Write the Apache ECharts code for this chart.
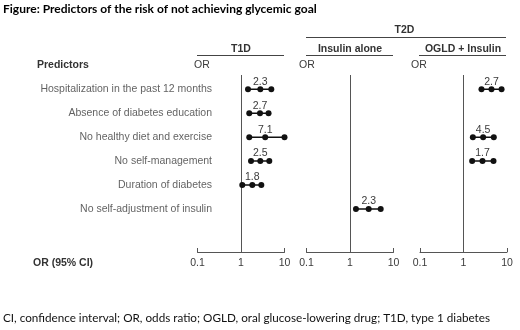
<!DOCTYPE html>
<html>
<head>
<meta charset="utf-8">
<script src="https://cdn.jsdelivr.net/npm/echarts@6/dist/echarts.min.js"></script>
<style>
  html, body { margin: 0; padding: 0; background: #fff; }
  #chart { width: 520px; height: 330px; }
</style>
</head>
<body>
<div id="chart"></div>
<script>
// row labels
var predictors = [
  'Hospitalization in the past 12 months',
  'Absence of diabetes education',
  'No healthy diet and exercise',
  'No self-management',
  'Duration of diabetes',
  'No self-adjustment of insulin'
];
var orTicks = [0.1, 1, 10];

// T1D: CI ends and middle dot as drawn, OR text shown above
var t1dLow  = [1.45, 1.55, 1.55, 1.7, 1.07, null];
var t1dMid  = [2.78, 2.73, 3.6, 2.78, 1.82, null];
var t1dHigh = [4.97, 4.3, 10, 4.47, 2.93, null];
var t1dOR   = ['2.3', '2.7', '7.1', '2.5', '1.8', null];

// T2D insulin alone
var insLow  = [null, null, null, null, null, 1.37];
var insMid  = [null, null, null, null, null, 2.69];
var insHigh = [null, null, null, null, null, 5.08];
var insOR   = [null, null, null, null, null, '2.3'];

// T2D OGLD + insulin
var ogLow  = [2.59, null, 1.64, 1.58, null, null];
var ogMid  = [4.4, null, 2.83, 2.73, null, null];
var ogHigh = [7.5, null, 4.97, 4.9, null, null];
var ogOR   = ['2.7', null, '4.5', '1.7', null, null];

var FONT = 'Liberation Sans';
var grey = '#3a3a3a';

var chart = echarts.init(document.getElementById('chart'));

var panelLeft = [197.5, 306.5, 420];
var grids = panelLeft.map(function (l) {
  return { left: l, width: 87, top: 75, height: 177 };
});
grids.push({ left: 212, width: 1, top: 75, height: 177 }); // row label grid

var xAxes = panelLeft.map(function (l, i) {
  return {
    gridIndex: i, type: 'log', logBase: 10,
    min: orTicks[0], max: orTicks[2],
    axisLine: { onZero: false, lineStyle: { color: '#555', width: 1 } },
    axisTick: { inside: true, length: 4, lineStyle: { color: '#555' } },
    axisLabel: { color: grey, fontFamily: FONT, fontSize: 10.5, margin: 6,
      formatter: function (v) { return String(v); } },
    splitLine: { show: false },
    minorTick: { show: false }
  };
});
xAxes.push({ gridIndex: 3, type: 'value', min: 0, max: 1, show: false });

var yAxes = [0, 1, 2, 3].map(function (i) {
  return { gridIndex: i, type: 'value', min: -0.6, max: 6.8, inverse: true, show: false };
});

var series = [];
function addPanel(g, low, mid, high, txt) {
  var first = true;
  for (var i = 0; i < predictors.length; i++) {
    if (low[i] == null) continue;
    var s = {
      type: 'line', xAxisIndex: g, yAxisIndex: g,
      data: [[low[i], i], [mid[i], i], [high[i], i]],
      symbol: 'circle', symbolSize: 6, showSymbol: true,
      itemStyle: { color: '#111' },
      lineStyle: { color: '#111', width: 1.5 },
      label: {
        show: true, position: 'top', distance: -1,
        color: grey, fontFamily: FONT, fontSize: 10.5,
        formatter: (function (t) {
          return function (p) { return p.dataIndex === 1 ? t : ''; };
        })(txt[i])
      },
      z: 5, silent: true
    };
    if (first) {
      s.markLine = {
        silent: true, symbol: 'none',
        label: { show: false },
        lineStyle: { color: '#555', width: 1, type: 'solid' },
        data: [{ xAxis: 1 }]
      };
      first = false;
    }
    series.push(s);
  }
}
addPanel(0, t1dLow, t1dMid, t1dHigh, t1dOR);
addPanel(1, insLow, insMid, insHigh, insOR);
addPanel(2, ogLow, ogMid, ogHigh, ogOR);

series.push({
  type: 'scatter', xAxisIndex: 3, yAxisIndex: 3,
  data: predictors.map(function (n, i) { return [0, i]; }),
  symbolSize: 0, silent: true,
  label: {
    show: true, position: 'left', distance: 0,
    color: grey, fontFamily: FONT, fontSize: 10.5,
    formatter: function (p) { return predictors[p.dataIndex]; }
  }
});

function rule(x1, x2, y) {
  return { type: 'line', silent: true,
    shape: { x1: x1, y1: y, x2: x2, y2: y },
    style: { stroke: '#444', lineWidth: 1 } };
}
function centerTxt(cx, y, s) {
  return { type: 'text', silent: true, x: cx, y: y,
    style: { text: s, fill: '#333', font: 'bold 10.5px ' + FONT,
      textAlign: 'center', textVerticalAlign: 'middle' } };
}
function leftTxt(x, y, s, font, fill) {
  return { type: 'text', silent: true, x: x, y: y,
    style: { text: s, fill: fill, font: font, textVerticalAlign: 'middle' } };
}

var graphics = [
  leftTxt(3, 9, 'Figure: Predictors of the risk of not achieving glycemic goal', 'bold 12px Lato', '#000'),
  centerTxt(404.5, 30, 'T2D'),
  rule(306, 506, 37.5),
  centerTxt(241, 49, 'T1D'),
  centerTxt(350, 49, 'Insulin alone'),
  centerTxt(463, 49, 'OGLD + Insulin'),
  rule(197, 284, 55.5),
  rule(306, 393, 55.5),
  rule(419, 506, 55.5),
  leftTxt(37, 65, 'Predictors', 'bold 10.5px ' + FONT, '#333'),
  leftTxt(194, 65, 'OR', '10.5px ' + FONT, grey),
  leftTxt(299, 65, 'OR', '10.5px ' + FONT, grey),
  leftTxt(411, 65, 'OR', '10.5px ' + FONT, grey),
  leftTxt(33, 263, 'OR (95% CI)', 'bold 10.5px ' + FONT, '#333'),
  leftTxt(3, 318, 'CI, confidence interval; OR, odds ratio; OGLD, oral glucose-lowering drug; T1D, type 1 diabetes', '11.7px Lato', '#111')
];

chart.setOption({
  animation: false,
  backgroundColor: '#fff',
  grid: grids,
  xAxis: xAxes,
  yAxis: yAxes,
  series: series,
  graphic: graphics
});
</script>
</body>
</html>
